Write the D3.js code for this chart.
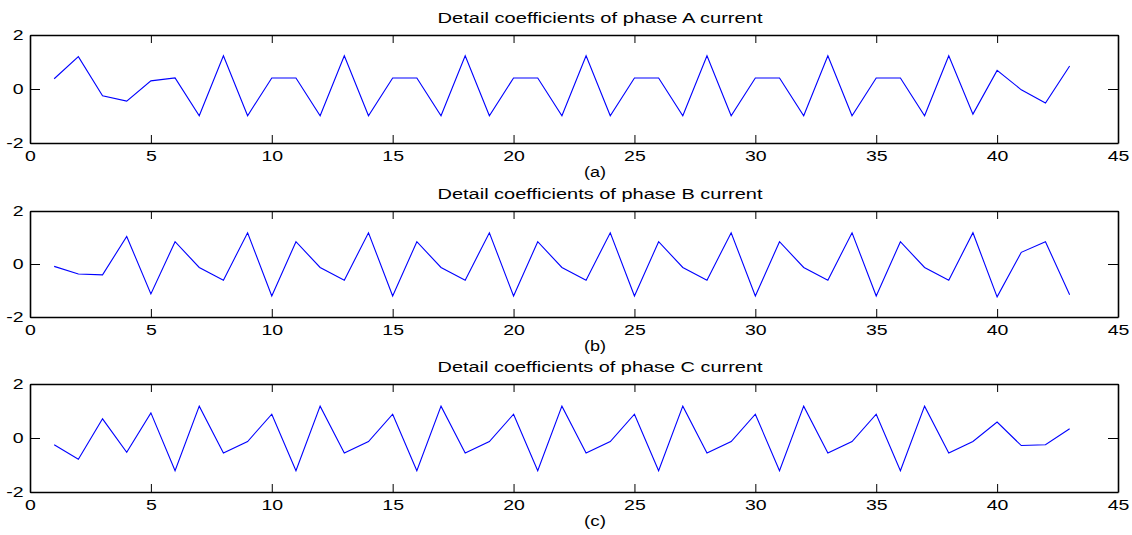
<!DOCTYPE html>
<html lang="en">
<head>
  <meta charset="UTF-8">
  <title>Detail coefficients of phase currents</title>
  <script src="https://d3js.org/d3.v7.min.js"></script>
  <style>
    body { margin: 0; background: #fff; font-family: "Liberation Sans", Arial, sans-serif; }
    svg { display: block; }
  </style>
</head>
<body>
<svg id="chart" width="1132" height="535"></svg>
<script>
// sample index 1..43
const samples = d3.range(1, 44);

const phaseA = [0.38, 1.2, -0.25, -0.45, 0.3, 0.41, -0.99, 1.23, -0.99, 0.41,
  0.41, -0.99, 1.23, -0.99, 0.41, 0.41, -0.99, 1.23, -0.99, 0.41,
  0.41, -0.99, 1.23, -0.99, 0.41, 0.41, -0.99, 1.23, -0.99, 0.41,
  0.41, -0.99, 1.23, -0.99, 0.41, 0.41, -0.99, 1.23, -0.93, 0.69,
  -0.03, -0.52, 0.85];

const phaseB = [-0.09, -0.38, -0.41, 1.04, -1.13, 0.84, -0.13, -0.61, 1.18, -1.21,
  0.84, -0.13, -0.61, 1.18, -1.21, 0.84, -0.13, -0.61, 1.18, -1.21,
  0.84, -0.13, -0.61, 1.18, -1.21, 0.84, -0.13, -0.61, 1.18, -1.21,
  0.84, -0.13, -0.61, 1.18, -1.21, 0.84, -0.13, -0.61, 1.18, -1.24,
  0.44, 0.84, -1.16];

const phaseC = [-0.25, -0.79, 0.71, -0.53, 0.93, -1.21, 1.18, -0.56, -0.13, 0.88,
  -1.21, 1.18, -0.56, -0.13, 0.88, -1.21, 1.18, -0.56, -0.13, 0.88,
  -1.21, 1.18, -0.56, -0.13, 0.88, -1.21, 1.18, -0.56, -0.13, 0.88,
  -1.21, 1.18, -0.56, -0.13, 0.88, -1.21, 1.18, -0.56, -0.13, 0.59,
  -0.28, -0.25, 0.34];

const titles = ["Detail coefficients of phase A current",
  "Detail coefficients of phase B current",
  "Detail coefficients of phase C current"];
const captions = ["(a)", "(b)", "(c)"];

const xTicks = [0, 5, 10, 15, 20, 25, 30, 35, 40, 45];
const yTicks = [-2, 0, 2];

const svg = d3.select("#chart");
const left = 30, right = 1118;
const panels = [
  { top: 35, bottom: 143, values: phaseA },
  { top: 211, bottom: 317, values: phaseB },
  { top: 384, bottom: 492, values: phaseC }
];

const x = d3.scaleLinear().domain([0, 45]).range([left, right]);
const stretch = "scale(1.3,1)";
const plain = d => String(d); // keeps the hyphen minus like the original

panels.forEach((p, i) => {
  const y = d3.scaleLinear().domain([-2, 2]).range([p.bottom, p.top]);
  const g = svg.append("g");

  // title and caption
  g.append("text")
    .attr("x", 600)
    .attr("y", p.top - 12)
    .attr("text-anchor", "middle")
    .attr("font-size", 14)
    .attr("textLength", 325)
    .attr("lengthAdjust", "spacingAndGlyphs")
    .text(titles[i]);

  g.append("text")
    .attr("x", 595)
    .attr("y", p.bottom + 34)
    .attr("text-anchor", "middle")
    .attr("font-size", 14)
    .attr("textLength", 22)
    .attr("lengthAdjust", "spacingAndGlyphs")
    .text(captions[i]);

  // axes: ticks point inward
  const bottom = g.append("g")
    .attr("transform", `translate(0,${p.bottom})`)
    .call(d3.axisBottom(x).tickValues(xTicks).tickFormat(plain).tickSize(-8).tickSizeOuter(0).tickPadding(7));
  const top = g.append("g")
    .attr("transform", `translate(0,${p.top})`)
    .call(d3.axisTop(x).tickValues(xTicks).tickSize(-8).tickSizeOuter(0).tickFormat(""));
  const leftAx = g.append("g")
    .attr("transform", `translate(${left},0)`)
    .call(d3.axisLeft(y).tickValues(yTicks).tickFormat(plain).tickSize(-10).tickSizeOuter(0).tickPadding(5));
  const rightAx = g.append("g")
    .attr("transform", `translate(${right},0)`)
    .call(d3.axisRight(y).tickValues(yTicks).tickSize(-10).tickSizeOuter(0).tickFormat(""));

  [bottom, top, leftAx, rightAx].forEach(a => {
    a.select(".domain").attr("stroke", "#000").attr("stroke-width", 1.6);
    a.selectAll(".tick line").attr("stroke", "#000").attr("stroke-width", 1);
    a.selectAll(".tick text")
      .attr("fill", "#000")
      .attr("font-size", 15)
      .attr("font-family", "'Liberation Sans', Arial, sans-serif")
      .attr("transform", stretch);
  });

  const line = d3.line()
    .x((d, k) => x(samples[k]))
    .y(d => y(d));

  g.append("path")
    .datum(p.values)
    .attr("fill", "none")
    .attr("stroke", "#0000ff")
    .attr("stroke-width", 1.1)
    .attr("d", line);
});
</script>
</body>
</html>
